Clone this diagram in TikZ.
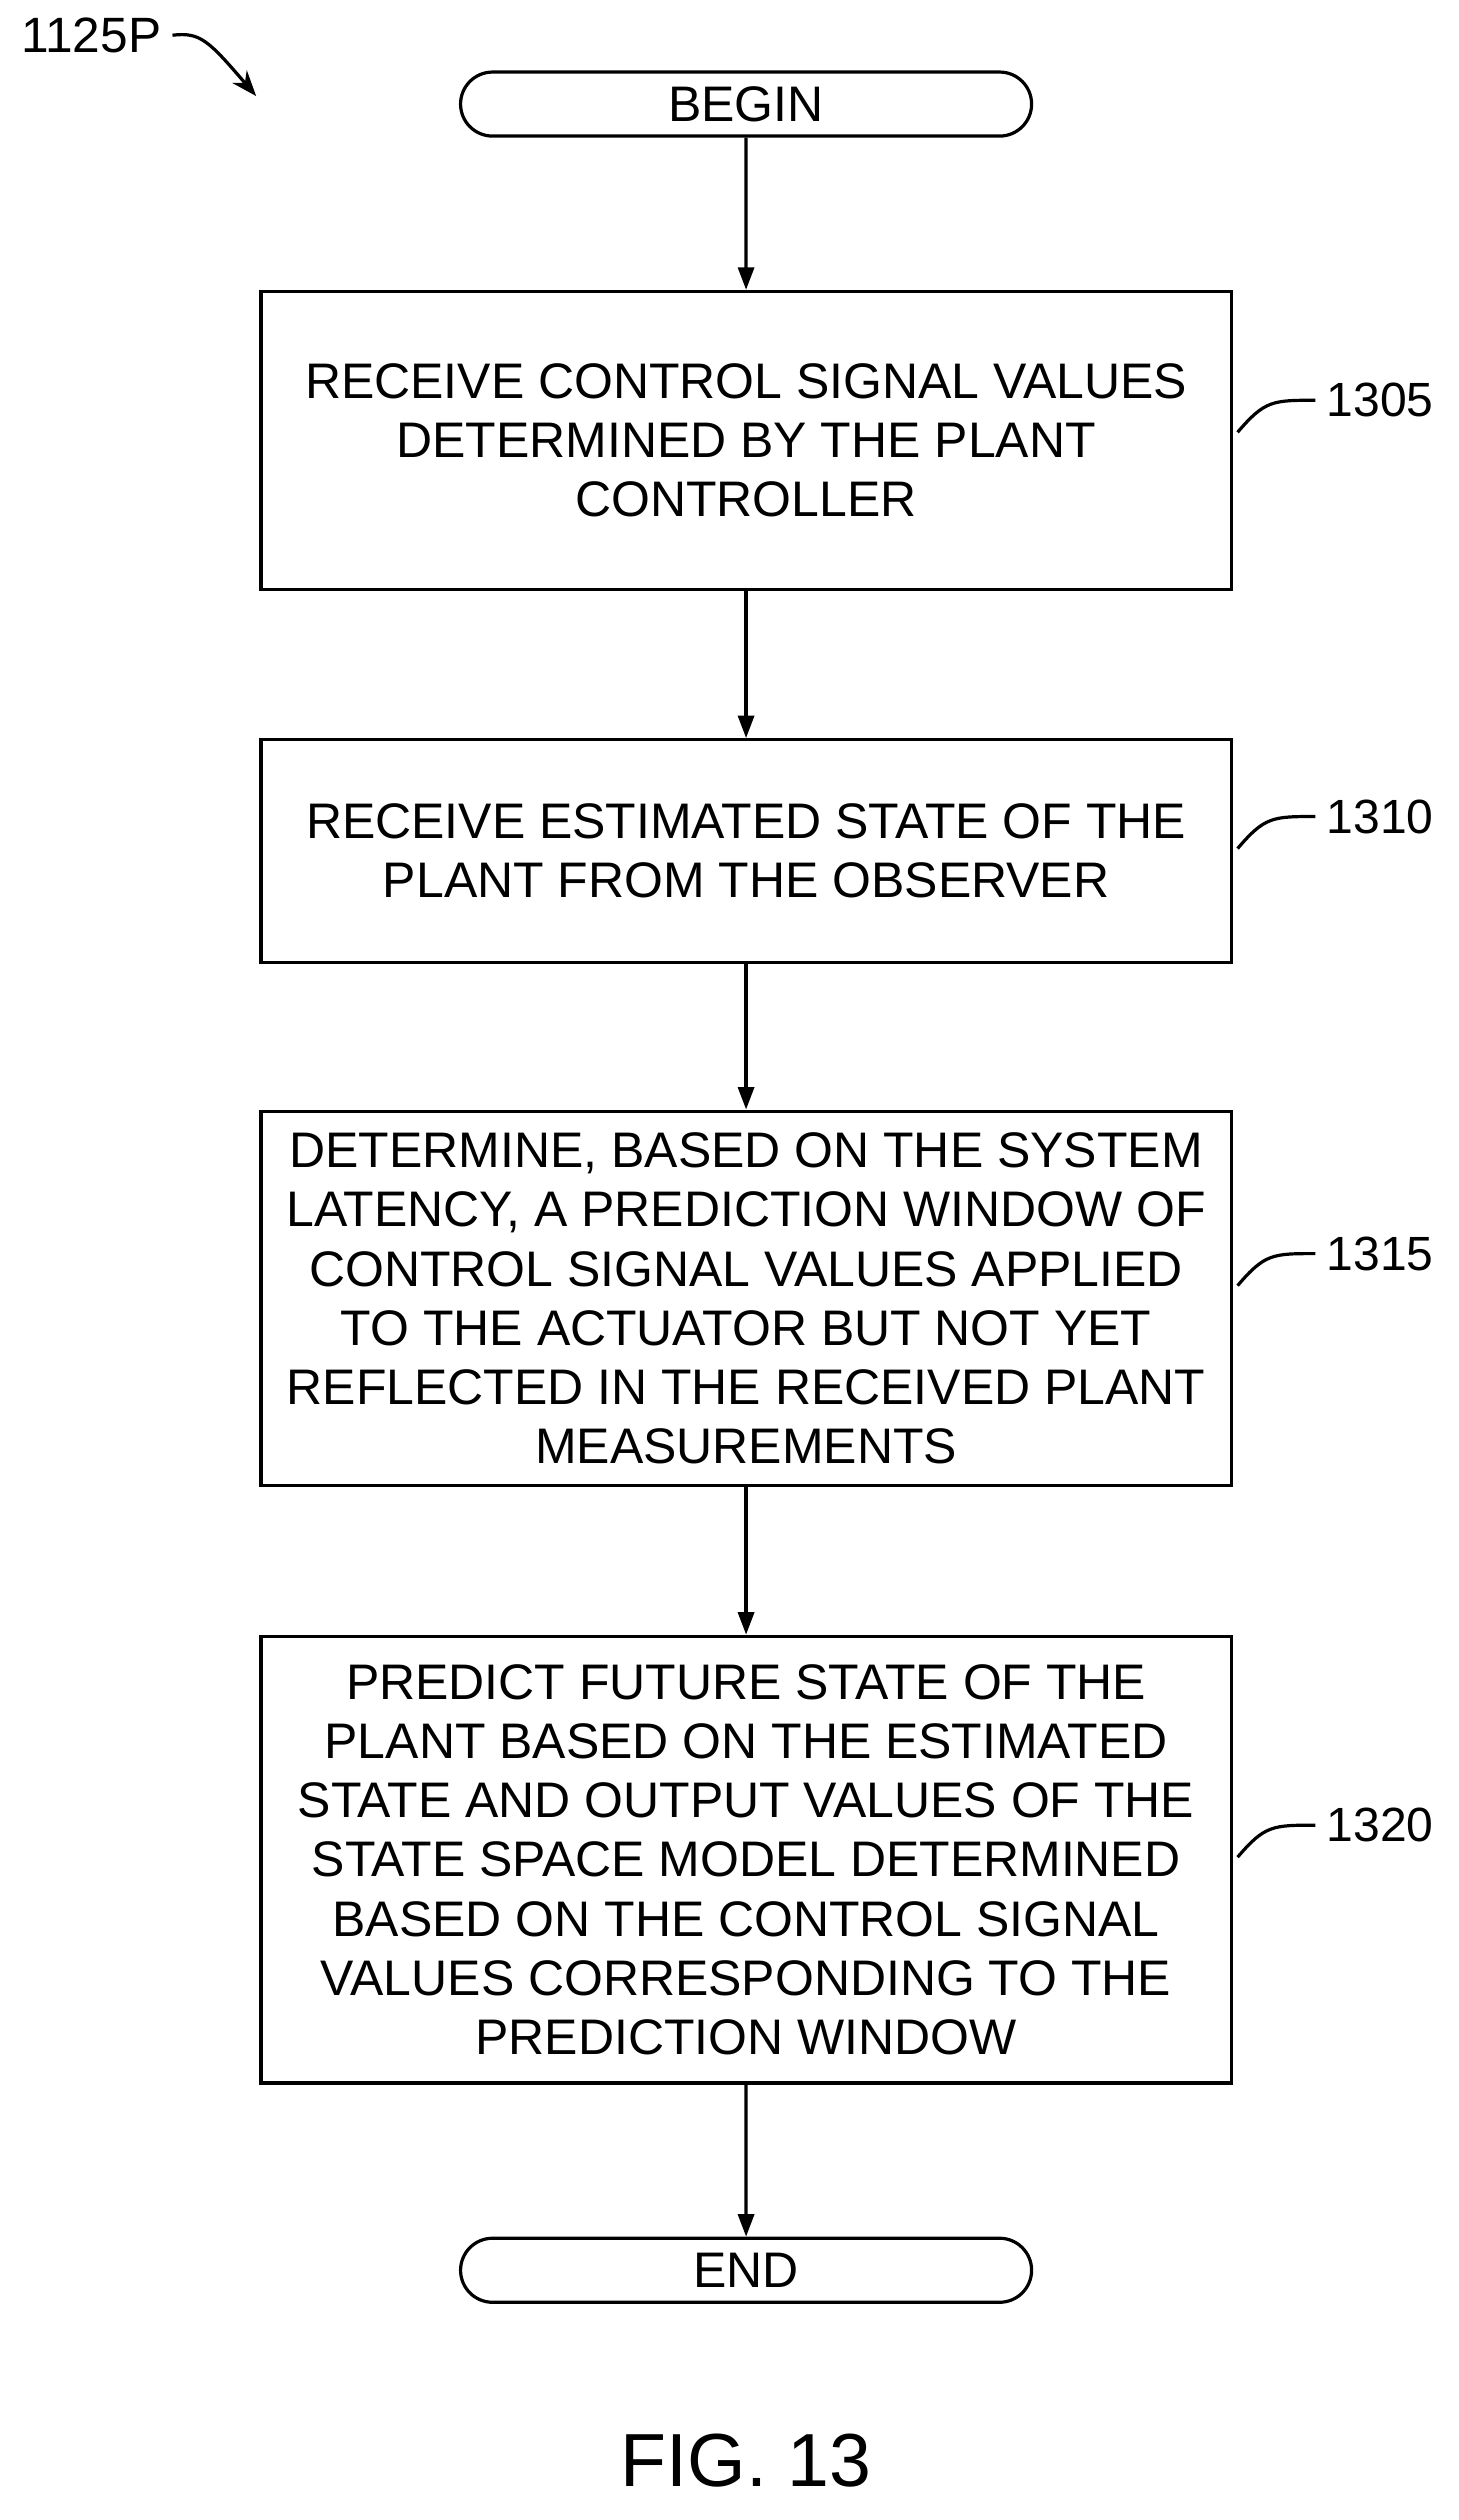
\documentclass[tikz,border=0pt]{standalone}
\usepackage{fontspec}
\setmainfont{Liberation Sans}
\usetikzlibrary{arrows.meta,shapes.misc}
\begin{document}
\begin{tikzpicture}[x=0.5pt,y=-0.5pt,
  box/.style={draw,line width=1pt,minimum width=303pt,align=center,font=\fontsize{15.6}{18.5}\selectfont,inner sep=0pt},
  term/.style={draw,line width=1pt,rounded rectangle,minimum width=185pt,minimum height=20pt,font=\fontsize{15.6}{16}\selectfont},
  arr/.style={-{Triangle[length=7pt,width=5pt]},line width=1pt},
  lbl/.style={font=\fontsize{15}{16}\selectfont},
  lead/.style={line width=1pt}]
\useasboundingbox (0,0) rectangle (911,1574);
\node[term] (begin) at (466,65) {BEGIN};
\node[box,minimum height=93pt] (b1) at (466,275) {RECEIVE CONTROL SIGNAL VALUES\\DETERMINED BY THE PLANT\\CONTROLLER};
\node[box,minimum height=69.5pt] (b2) at (466,531.5) {RECEIVE ESTIMATED STATE OF THE\\PLANT FROM THE OBSERVER};
\node[box,minimum height=117pt] (b3) at (466,811) {DETERMINE, BASED ON THE SYSTEM\\LATENCY, A PREDICTION WINDOW OF\\CONTROL SIGNAL VALUES APPLIED\\TO THE ACTUATOR BUT NOT YET\\REFLECTED IN THE RECEIVED PLANT\\MEASUREMENTS};
\node[box,minimum height=139.5pt] (b4) at (466,1161.5) {PREDICT FUTURE STATE OF THE\\PLANT BASED ON THE ESTIMATED\\STATE AND OUTPUT VALUES OF THE\\STATE SPACE MODEL DETERMINED\\BASED ON THE CONTROL SIGNAL\\VALUES CORRESPONDING TO THE\\PREDICTION WINDOW};
\node[term] (end) at (466,1418) {END};
\draw[arr] (begin) -- (b1);
\draw[arr] (b1) -- (b2);
\draw[arr] (b2) -- (b3);
\draw[arr] (b3) -- (b4);
\draw[arr] (b4) -- (end);
\node[lbl] (l1) at (862,250) {1305};
\node[lbl] (l2) at (862,510) {1310};
\node[lbl] (l3) at (862,783) {1315};
\node[lbl] (l4) at (862,1140) {1320};
\foreach \l/\y in {l1/250,l2/510,l3/783,l4/1140}{
  \coordinate (s\l) at (773,\y+20);
  \draw[lead] (s\l) .. controls (790,\y) and (795,\y) .. (\l.west);
}
\node[lbl,font=\fontsize{15.5}{16}\selectfont] (fig) at (57,22) {1125P};
\coordinate (figend) at (160,60);
\draw[-{Stealth[length=8pt,width=6pt]},line width=1pt] (fig.east) .. controls (125,20) and (130,25) .. (figend);
\node[font=\fontsize{23.5}{26}\selectfont] (cap) at (466,1537) {FIG. 13};
\end{tikzpicture}
\end{document}
